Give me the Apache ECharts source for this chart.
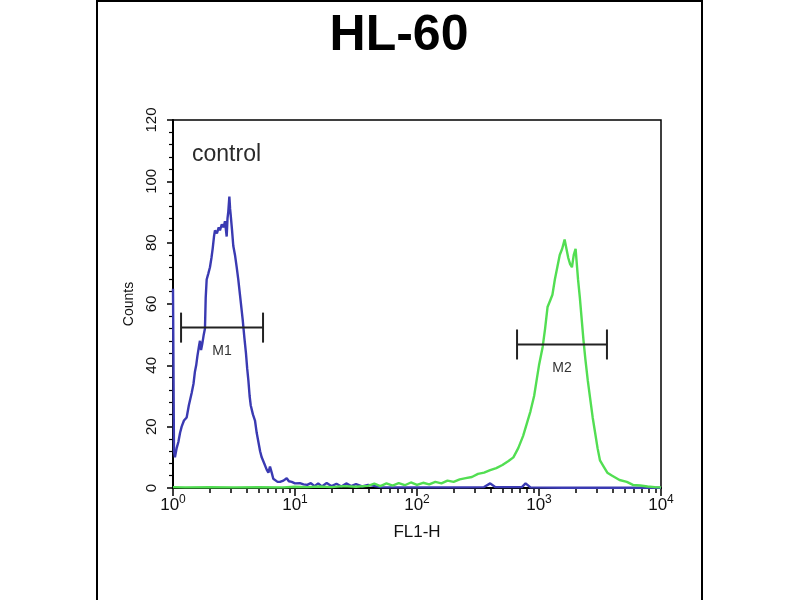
<!DOCTYPE html>
<html>
<head>
<meta charset="utf-8">
<script src="https://cdn.jsdelivr.net/npm/echarts@6/dist/echarts.min.js"></script>
<style>html,body{margin:0;padding:0;background:#fff;}#c{width:800px;height:600px;}</style>
</head>
<body>
<div id="c"></div>
<script>
// x values are log10(FL1-H) in decades; y values are counts
const blueX = [0.000,0.008,0.016,0.030,0.044,0.058,0.071,0.090,0.112,0.130,0.153,0.168,0.180,0.190,0.200,0.212,0.221,0.230,0.240,0.252,0.262,0.268,0.276,0.290,0.303,0.315,0.325,0.336,0.344,0.360,0.375,0.385,0.400,0.415,0.426,0.440,0.447,0.453,0.462,0.468,0.473,0.484,0.494,0.508,0.522,0.535,0.549,0.560,0.571,0.585,0.598,0.608,0.618,0.628,0.637,0.655,0.672,0.686,0.700,0.714,0.727,0.748,0.768,0.782,0.795,0.809,0.822,0.836,0.857,0.877,0.905,0.932,0.950,0.973,1.000,1.040,1.070,1.100,1.130,1.160,1.190,1.220,1.260,1.300,1.340,1.380,1.420,1.460,1.500,1.550,1.600,1.700,1.850,2.000,2.200,2.400,2.550,2.600,2.640,2.860,2.890,2.930,3.200,3.500,3.800,4.000];
const blueY = [65,12,10,13,15,18,20,22,23,27,31,34,38,40,43,46,48,45,47,50,52,62,68,70,72,75,78,82,84,83,85,84,86,85,87,82,88,90,95,91,89,84,79,76,72,68,63,59,55,49,44,39,35,30,27,24,22,18,15,12,10,8,6,5,7,5,3,2.6,2,2,2.4,3.2,2.2,2,1.5,1.6,1.2,1.0,1.6,0.6,1.5,0.5,1.6,0.6,1.4,0.5,1.5,0.6,1.3,0.5,1.0,0.3,0.2,0.2,0.2,0.2,0.3,1.5,0.3,0.3,1.5,0.2,0.1,0.1,0.1,0.1];

const greenX = [0,0.1,0.3,0.5,0.7,0.9,1.0,1.1,1.2,1.3,1.4,1.5,1.6,1.65,1.7,1.75,1.8,1.85,1.9,1.95,2.0,2.05,2.1,2.15,2.2,2.25,2.3,2.35,2.40,2.45,2.50,2.55,2.60,2.65,2.70,2.75,2.79,2.83,2.87,2.90,2.93,2.96,2.98,3.00,3.03,3.05,3.07,3.09,3.11,3.13,3.15,3.17,3.19,3.21,3.22,3.24,3.255,3.27,3.285,3.30,3.31,3.32,3.335,3.35,3.365,3.38,3.40,3.42,3.44,3.46,3.48,3.50,3.53,3.56,3.60,3.66,3.72,3.77,3.83,3.89,3.95,4.0];
const greenY = [0.3,0.2,0.3,0.2,0.3,0.2,0.4,0.3,0.5,0.3,0.6,0.4,0.7,1.4,0.6,1.5,0.8,1.6,0.9,1.8,1.0,1.7,1.2,2.0,1.5,2.4,2.0,2.8,3.2,3.6,4.6,5.0,5.8,6.5,7.5,8.8,10,13,17,21,25,30,35,40,46,52,59,61,63,68,72,76,78,81,79,75,73,72,76,78,73,68,62,55,48,42,35,29,23,18,13,9,7,5,4,2.6,2,1,0.8,0.5,0.3,0.2];

// Gate markers: log10 bounds and count level
const markerNames = ['M1','M2'];
const markerLo = [0.066, 2.82];
const markerHi = [0.738, 3.557];
const markerLevel = [52.3, 46.8];

const xDecades = [0,1,2,3,4];
const yTicks = [0,20,40,60,80,100,120];
const titleText = 'HL-60';
const sampleLabel = 'control';

const FONT = "'Liberation Sans', Arial, sans-serif";
const zip = (xs, ys) => xs.map((x, i) => [x, ys[i]]);
const minorX = [];
for (let d = 0; d < 4; d++) for (let k = 2; k <= 9; k++) minorX.push(Math.log10(k) + d);

const chart = echarts.init(document.getElementById('c'), null, {renderer: 'canvas'});
chart.setOption({
  animation: false,
  backgroundColor: '#fff',
  title: {
    text: titleText, left: 394, top: 6, textAlign: 'center',
    textStyle: {fontFamily: FONT, fontSize: 50, fontWeight: 'bold', color: '#000'}
  },
  grid: {left: 173, right: 139, top: 120, bottom: 112, show: true, borderColor: '#000', borderWidth: 1.5, backgroundColor: 'transparent'},
  xAxis: [{
    type: 'value', min: xDecades[0], max: xDecades[xDecades.length - 1], interval: 1,
    position: 'bottom',
    name: 'FL1-H', nameLocation: 'middle', nameGap: 36,
    nameTextStyle: {fontFamily: FONT, fontSize: 17, color: '#111'},
    axisLine: {show: true, lineStyle: {color: '#000', width: 2}},
    axisTick: {show: true, length: 8, lineStyle: {color: '#000', width: 1.5}},
    splitLine: {show: false},
    axisLabel: {
      margin: 6, color: '#111',
      formatter: v => '{b|10}{s|' + Math.round(v) + '}',
      rich: {
        b: {fontFamily: FONT, fontSize: 17, color: '#111'},
        s: {fontFamily: FONT, fontSize: 12, color: '#111', padding: [0, 0, 10, 0]}
      }
    }
  }, {
    type: 'value', min: 0, max: 4, position: 'bottom', gridIndex: 0,
    axisLine: {show: false}, axisLabel: {show: false}, splitLine: {show: false},
    axisTick: {show: true, length: 5, customValues: minorX, lineStyle: {color: '#000', width: 1.5}}
  }],
  yAxis: {
    type: 'value', min: yTicks[0], max: yTicks[yTicks.length - 1], interval: 20,
    name: 'Counts', nameLocation: 'middle', nameGap: 36,
    nameTextStyle: {fontFamily: FONT, fontSize: 14, color: '#111'},
    axisLine: {show: true, lineStyle: {color: '#000', width: 2}},
    axisTick: {show: true, length: 6, lineStyle: {color: '#000', width: 1.5}},
    minorTick: {show: true, splitNumber: 5, length: 4, lineStyle: {color: '#000', width: 1.2}},
    splitLine: {show: false},
    axisLabel: {rotate: 90, margin: 14, fontFamily: FONT, fontSize: 15, color: '#111'}
  },
  graphic: [
    {type: 'rect', shape: {x: 97, y: 1, width: 605, height: 640}, style: {fill: 'none', stroke: '#000', lineWidth: 2}, silent: true},
    {type: 'text', x: 192, y: 155, style: {text: sampleLabel, font: "23px 'Liberation Sans', Arial, sans-serif", fill: '#2a2a2a', verticalAlign: 'middle'}}
  ],
  series: [{
    type: 'line', data: zip(blueX, blueY), showSymbol: false, symbol: 'none',
    lineStyle: {color: '#3a3ab2', width: 2.4}, z: 3
  }, {
    type: 'line', data: zip(greenX, greenY), showSymbol: false, symbol: 'none',
    lineStyle: {color: '#52de52', width: 2.4}, z: 4
  }, {
    type: 'custom', z: 5,
    data: markerNames.map((n, i) => [markerLo[i], markerHi[i], markerLevel[i], i]),
    renderItem: function (params, api) {
      const lo = api.coord([api.value(0), api.value(2)]);
      const hi = api.coord([api.value(1), api.value(2)]);
      const cap = 15;
      const st = {stroke: '#222', lineWidth: 2};
      return {
        type: 'group',
        children: [
          {type: 'line', shape: {x1: lo[0], y1: lo[1], x2: hi[0], y2: hi[1]}, style: st},
          {type: 'line', shape: {x1: lo[0], y1: lo[1] - cap, x2: lo[0], y2: lo[1] + cap}, style: st},
          {type: 'line', shape: {x1: hi[0], y1: hi[1] - cap, x2: hi[0], y2: hi[1] + cap}, style: st},
          {type: 'text', x: (lo[0] + hi[0]) / 2, y: lo[1] + 24,
           style: {text: markerNames[api.value(3)], font: "14px 'Liberation Sans', Arial, sans-serif", fill: '#333', align: 'center', verticalAlign: 'middle'}}
        ]
      };
    }
  }]
});
</script>
</body>
</html>
